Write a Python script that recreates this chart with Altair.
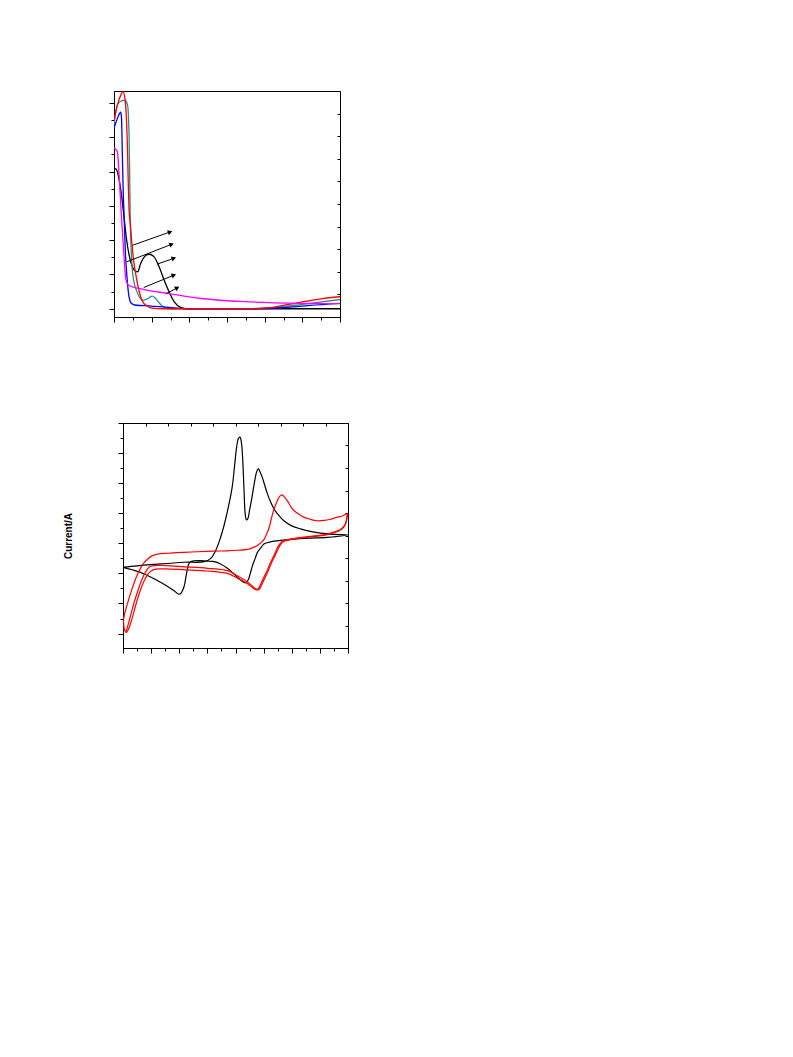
import math
import altair as alt
import pandas as pd

# ---------------- top panel: absorption spectra ----------------
black_x = [0, 0.06, 0.13, 0.2, 0.27, 0.33, 0.4, 0.49, 0.58, 0.63, 0.71, 0.84, 0.93, 1.06, 1.2, 1.33, 1.46, 1.6, 1.77, 1.95, 3.0, 4.5, 6.0]
black_y = [4.09, 4.07, 3.8, 3.31, 2.64, 2.05, 1.57, 1.22, 1.09, 1.08, 1.33, 1.55, 1.59, 1.52, 1.22, 0.84, 0.5, 0.2, 0.04, 0.0, 0.0, 0.0, 0.0]

red_x = [0, 0.09, 0.18, 0.24, 0.29, 0.33, 0.36, 0.38, 0.4, 0.43, 0.46, 0.52, 0.59, 0.66, 0.74, 0.88, 1.0, 1.3, 3.6, 4.1, 4.6, 5.0, 5.5, 6.0]
red_y = [5.5, 5.94, 6.23, 6.33, 6.13, 5.55, 4.58, 3.61, 2.9, 2.5, 2.1, 1.42, 0.93, 0.55, 0.25, 0.08, 0.02, 0.0, 0.0, 0.03, 0.12, 0.2, 0.29, 0.35]

teal_x = [0, 0.09, 0.18, 0.29, 0.36, 0.4, 0.42, 0.43, 0.45, 0.48, 0.52, 0.61, 0.7, 0.79, 0.9, 1.01, 1.08, 1.14, 1.28, 1.47, 3.5, 4.3, 5.0, 6.0]
teal_y = [5.35, 5.95, 6.05, 6.08, 5.94, 5.06, 3.61, 2.7, 1.9, 1.22, 0.84, 0.5, 0.3, 0.25, 0.3, 0.37, 0.33, 0.25, 0.08, 0.0, 0.0, 0.04, 0.13, 0.27]

blue_x = [0, 0.09, 0.18, 0.2, 0.22, 0.24, 0.27, 0.3, 0.35, 0.4, 0.46, 0.55, 1.0, 1.45, 1.9, 3.7, 4.5, 5.2, 6.0]
blue_y = [5.26, 5.55, 5.73, 5.55, 4.58, 3.61, 2.64, 1.7, 0.85, 0.35, 0.16, 0.11, 0.08, 0.04, 0.0, 0.0, 0.03, 0.1, 0.16]

magenta_x = [0, 0.09, 0.13, 0.2, 0.27, 0.31, 0.38, 0.49, 0.8, 1.42, 2.31, 3.63, 4.96, 6.0]
magenta_y = [4.69, 4.58, 4.0, 2.64, 1.47, 0.89, 0.69, 0.64, 0.56, 0.45, 0.3, 0.2, 0.16, 0.15]

spec_names = ["black", "teal", "blue", "red", "magenta"]
spec_colors = ["#000000", "#2E8B8B", "#0000FF", "#FF0000", "#FF00FF"]

arrow_x1 = [0.49, 0.34, 1.14, 0.79, 1.37]
arrow_y1 = [1.85, 1.37, 1.30, 0.62, 0.43]
arrow_x2 = [1.49, 1.53, 1.59, 1.59, 1.68]
arrow_y2 = [2.24, 1.88, 1.47, 0.98, 0.61]

# ---------------- bottom panel: cyclic voltammograms ----------------
cv_black_x = [0, 0.5, 0.99, 1.6, 2.18, 2.89, 3.12, 3.29, 3.45, 3.58, 3.66, 3.79, 3.89, 3.97, 4.04, 4.1, 4.16, 4.21, 4.25, 4.28, 4.31, 4.34, 4.39, 4.44, 4.5, 4.58, 4.66, 4.75, 4.81, 4.87, 4.95, 5.04, 5.13, 5.25, 5.37, 5.5, 5.72, 6.0, 6.31, 6.7, 7.02, 7.5, 8.0,
              7.26, 6.6, 6.08, 5.6, 5.37, 5.13, 5.01, 4.9, 4.78, 4.7, 4.6, 4.52, 4.45, 4.36, 4.3, 4.18, 4.07, 3.9, 3.71, 3.45, 3.24, 2.9, 2.53, 2.4, 2.33, 2.29, 2.24, 2.18, 2.1, 2.04, 1.98, 1.9, 1.82, 1.6, 1.35, 1.05, 0.76, 0.4, 0]
cv_black_y = [2.2, 2.25, 2.29, 2.33, 2.37, 2.39, 2.5, 2.75, 3.14, 3.55, 3.85, 4.4, 4.92, 5.6, 6.2, 6.48, 6.53, 6.35, 5.9, 5.3, 4.6, 4.03, 3.78, 3.82, 4.1, 4.5, 4.95, 5.37, 5.48, 5.38, 5.2, 4.93, 4.66, 4.37, 4.14, 3.97, 3.75, 3.58, 3.48, 3.39, 3.34, 3.3, 3.28,
              3.2, 3.17, 3.14, 3.1, 3.07, 3.02, 2.98, 2.85, 2.7, 2.5, 2.25, 1.98, 1.78, 1.69, 1.7, 1.78, 1.87, 2.02, 2.17, 2.32, 2.39, 2.42, 2.42, 2.39, 2.3, 2.14, 1.9, 1.59, 1.4, 1.32, 1.31, 1.36, 1.42, 1.56, 1.7, 1.85, 1.98, 2.1, 2.2]

cv_red1_x = [0.02, 0.07, 0.17, 0.28, 0.4, 0.52, 0.64, 0.76, 0.88, 1.05, 1.23, 1.6, 2.18, 2.65, 3.2, 3.71, 4.07, 4.42, 4.6, 4.78, 4.9, 5.01, 5.1, 5.19, 5.27, 5.37, 5.48, 5.57, 5.66, 5.75, 5.84, 5.95, 6.08, 6.25, 6.43, 6.65, 6.9, 7.15, 7.38, 7.6, 7.8, 7.97,
             7.94, 7.88, 7.73, 7.5, 7.26, 6.67, 6.2, 5.96, 5.75, 5.66, 5.57, 5.49, 5.37, 5.25, 5.13, 5.01, 4.9, 4.84, 4.78, 4.7, 4.6, 4.45, 4.3, 4.07, 3.71, 3.0, 2.2, 1.5, 1.1, 0.95, 0.85, 0.76, 0.64, 0.52, 0.4, 0.28, 0.2, 0.14, 0.1, 0.06, 0.03, 0.02]
cv_red1_y = [0.48, 0.7, 1.03, 1.37, 1.7, 1.98, 2.2, 2.37, 2.48, 2.59, 2.64, 2.67, 2.7, 2.72, 2.74, 2.75, 2.77, 2.8, 2.85, 2.93, 3.02, 3.12, 3.3, 3.5, 3.8, 4.14, 4.4, 4.56, 4.61, 4.53, 4.42, 4.25, 4.09, 3.97, 3.87, 3.8, 3.75, 3.76, 3.8, 3.86, 3.91, 3.98,
             3.75, 3.6, 3.46, 3.37, 3.31, 3.23, 3.18, 3.14, 3.1, 3.07, 2.97, 2.85, 2.6, 2.37, 2.1, 1.87, 1.65, 1.53, 1.48, 1.5, 1.58, 1.7, 1.8, 1.92, 2.09, 2.17, 2.22, 2.26, 2.26, 2.22, 2.12, 1.98, 1.72, 1.4, 1.05, 0.64, 0.35, 0.16, 0.08, 0.1, 0.25, 0.48]

cv_red2_x = [7.97, 7.94, 7.88, 7.73, 7.5, 7.26, 6.67, 6.2, 5.96, 5.75, 5.68, 5.6, 5.52, 5.4, 5.28, 5.16, 5.04, 4.93, 4.87, 4.8, 4.72, 4.6, 4.45, 4.3, 4.07, 3.71, 3.0, 2.2, 1.5, 1.15, 1.0, 0.88, 0.8, 0.68, 0.56, 0.44, 0.33, 0.24, 0.17, 0.12, 0.08]
cv_red2_y = [3.98, 3.73, 3.58, 3.44, 3.35, 3.29, 3.21, 3.16, 3.12, 3.08, 3.04, 2.95, 2.83, 2.58, 2.35, 2.08, 1.84, 1.62, 1.5, 1.45, 1.46, 1.53, 1.64, 1.73, 1.84, 2.0, 2.08, 2.12, 2.15, 2.14, 2.08, 1.97, 1.84, 1.6, 1.28, 0.9, 0.52, 0.25, 0.1, 0.04, 0.06]

# ---------------- build tables ----------------
def spec_rows(name, xs, ys):
    return [{"x": a, "y": b, "series": name} for a, b in zip(xs, ys)]

top_df = pd.DataFrame(
    spec_rows("black", black_x, black_y)
    + spec_rows("teal", teal_x, teal_y)
    + spec_rows("blue", blue_x, blue_y)
    + spec_rows("red", red_x, red_y)
    + spec_rows("magenta", magenta_x, magenta_y)
)

TOP_W, TOP_H = 226, 226
TOP_XD = [0, 6]
TOP_YD = [-0.24, 6.35]
px_x = TOP_W / (TOP_XD[1] - TOP_XD[0])
px_y = TOP_H / (TOP_YD[1] - TOP_YD[0])

arrow_df = pd.DataFrame({"x1": arrow_x1, "y1": arrow_y1, "x2": arrow_x2, "y2": arrow_y2})
arrow_df["ang"] = [
    math.degrees(math.atan2((b - a) * px_x, (d - c) * px_y)) % 360
    for a, b, c, d in zip(arrow_df.x1, arrow_df.x2, arrow_df.y1, arrow_df.y2)
]

def cv_rows(name, xs, ys):
    return [{"x": a, "y": b, "series": name, "ord": i} for i, (a, b) in enumerate(zip(xs, ys))]

cv_black_df = pd.DataFrame(cv_rows("black", cv_black_x, cv_black_y))
cv_red_df = pd.DataFrame(cv_rows("red_a", cv_red1_x, cv_red1_y) + cv_rows("red_b", cv_red2_x, cv_red2_y))

frame_df = pd.DataFrame({"fx": [0, 10], "fy": [0, 10]})
spacer_df = pd.DataFrame({"s": [0]})

tick_cond = {"condition": {"test": "datum.value % 1 === 0", "value": 5}, "value": 3}

def main_axis(vals, **kw):
    return alt.Axis(values=vals, tickSize=tick_cond, labels=False, grid=False,
                    domainColor="black", tickColor="black", domainWidth=1, tickWidth=1, **kw)

frame_view = alt.ViewBackground(stroke="black", strokeWidth=1, strokeOpacity=1)

# ---------------- top chart ----------------
def tx(field):
    return alt.X(field, type="quantitative", scale=alt.Scale(domain=TOP_XD, nice=False, zero=False),
                 axis=main_axis([i * 0.5 for i in range(13)], title=None, orient="bottom"))

def ty(field):
    return alt.Y(field, type="quantitative", scale=alt.Scale(domain=TOP_YD, nice=False, zero=False),
                 axis=main_axis([i * 0.5 for i in range(13)], title=None, orient="left", minExtent=0))

spectra = alt.Chart(top_df).mark_line(strokeWidth=1.3, interpolate="monotone", clip=True).encode(
    x=tx("x"), y=ty("y"),
    color=alt.Color("series:N", scale=alt.Scale(domain=spec_names, range=spec_colors), legend=None),
)
arrows = alt.Chart(arrow_df).mark_rule(color="black", strokeWidth=1).encode(
    x=tx("x1"), y=ty("y1"), x2="x2:Q", y2="y2:Q")
heads = alt.Chart(arrow_df).mark_point(shape="triangle-up", filled=True, size=28, color="black", opacity=1).encode(
    x=tx("x2"), y=ty("y2"), angle=alt.Angle("ang:Q", scale=None))

top_frame = alt.Chart(frame_df).mark_point(opacity=0).encode(
    x=alt.X("fx:Q", scale=alt.Scale(domain=[0, 10], nice=False), axis=None),
    y=alt.Y("fy:Q", scale=alt.Scale(domain=[0, 10], nice=False),
            axis=alt.Axis(orient="right", values=list(range(11)), tickSize=3, offset=-3, labels=False,
                          domain=False, grid=False, title=None, tickColor="black")),
)

top_chart = alt.layer(alt.layer(spectra, arrows, heads), top_frame).resolve_scale(
    x="independent", y="independent").properties(width=TOP_W, height=TOP_H, view=frame_view)

# ---------------- bottom chart ----------------
BOT_W, BOT_H = 225, 225

def bx(field):
    return alt.X(field, type="quantitative", scale=alt.Scale(domain=[0, 8], nice=False, zero=False),
                 axis=main_axis([i * 0.5 for i in range(17)], title=None, orient="bottom"))

def by(field):
    return alt.Y(field, type="quantitative", scale=alt.Scale(domain=[-0.48, 7.0], nice=False, zero=False),
                 axis=main_axis([i * 0.5 for i in range(15)], title="Current/A", orient="left",
                                minExtent=5, titlePadding=44, titleFont="Liberation Sans",
                                titleFontSize=10, titleFontWeight="bold", titleColor="black"))

cv_black = alt.Chart(cv_black_df).mark_line(strokeWidth=1.2, interpolate="catmull-rom", clip=True,
                                            color="#000000").encode(
    x=bx("x"), y=by("y"), order="ord:Q")
cv_red = alt.Chart(cv_red_df).mark_line(strokeWidth=1.2, interpolate="catmull-rom", clip=True,
                                        color="#FF0000").encode(
    x=bx("x"), y=by("y"), detail="series:N", order="ord:Q")

bot_frame = alt.Chart(frame_df).mark_point(opacity=0).encode(
    x=alt.X("fx:Q", scale=alt.Scale(domain=[0, 10], nice=False),
            axis=alt.Axis(orient="top", values=list(range(11)), tickSize=3, offset=-3, labels=False,
                          domain=False, grid=False, title=None, tickColor="black")),
    y=alt.Y("fy:Q", scale=alt.Scale(domain=[0, 10], nice=False),
            axis=alt.Axis(orient="right", values=list(range(11)), tickSize=3, offset=-3, labels=False,
                          domain=False, grid=False, title=None, tickColor="black")),
)
bot_chart = alt.layer(alt.layer(cv_black, cv_red), bot_frame).resolve_scale(
    x="independent", y="independent").properties(width=BOT_W, height=BOT_H, view=frame_view)

# invisible spacers to place the two panels horizontally
def spacer(w):
    return alt.Chart(spacer_df).mark_point(opacity=0).properties(width=w, height=1)

top_row = alt.hconcat(spacer(56), top_chart, spacing=0)
bot_row = alt.hconcat(spacer(11), bot_chart, spacing=0)

chart = alt.vconcat(top_row, bot_row, spacing=96).properties(
    padding={"left": 44, "top": 79, "right": 5, "bottom": 5}
).configure_view(strokeOpacity=0)

chart.save("out.html", embed_options={"renderer": "svg", "actions": False})
